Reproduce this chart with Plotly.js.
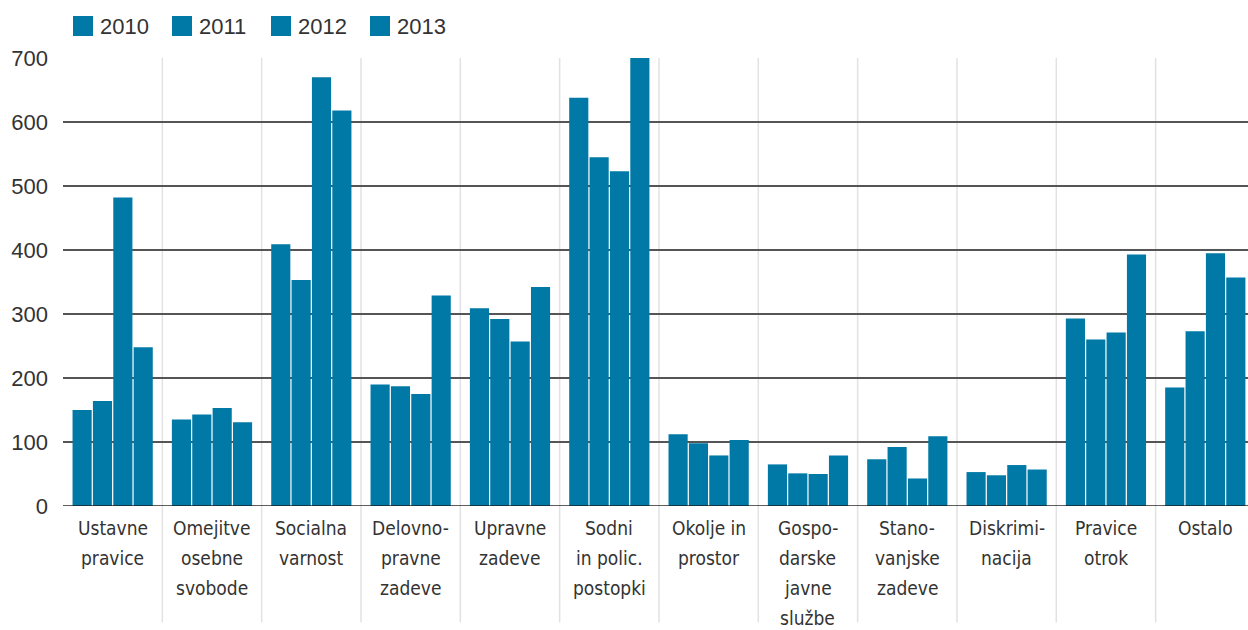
<!DOCTYPE html>
<html>
<head>
<meta charset="utf-8">
<script src="https://cdn.plot.ly/plotly-3.0.1.min.js"></script>
<style>
  html, body { margin: 0; padding: 0; background: #ffffff; }
  #chart { width: 1248px; height: 630px; }
</style>
</head>
<body>
<div id="chart"></div>
<script>
// Category labels (line-broken as in the reference)
const categoryLines = [
  ["Ustavne", "pravice"],
  ["Omejitve", "osebne", "svobode"],
  ["Socialna", "varnost"],
  ["Delovno-", "pravne", "zadeve"],
  ["Upravne", "zadeve"],
  ["Sodni", "in polic.", "postopki"],
  ["Okolje in", "prostor"],
  ["Gospo-", "darske", "javne", "službe"],
  ["Stano-", "vanjske", "zadeve"],
  ["Diskrimi-", "nacija"],
  ["Pravice", "otrok"],
  ["Ostalo"]
];
const categories = categoryLines.map(l => l.join(" "));

const seriesNames = ["2010", "2011", "2012", "2013"];
const values2010 = [150, 135, 409, 190, 309, 638, 112, 65, 73, 53, 293, 185];
const values2011 = [164, 143, 353, 187, 292, 545, 98, 51, 92, 48, 260, 273];
const values2012 = [482, 153, 670, 175, 257, 523, 79, 50, 43, 64, 271, 395];
const values2013 = [248, 131, 618, 329, 342, 700, 103, 79, 109, 57, 393, 357];
const seriesValues = [values2010, values2011, values2012, values2013];

const yTickValues = [0, 100, 200, 300, 400, 500, 600, 700];

const barColor = "#0079a6";
const textColor = "#333333";
const narrowFont = "'Liberation Sans Narrow', 'DejaVu Sans Condensed', Roboto, sans-serif";
const numFont = "'Liberation Sans', Arial, sans-serif";

const traces = seriesNames.map((name, k) => ({
  type: "bar",
  name: name,
  x: categories,
  y: seriesValues[k],
  marker: { color: barColor },
  hoverinfo: "x+y+name"
}));

const shapes = [];
for (let i = 0; i < categories.length - 1; i++) {
  shapes.push({
    type: "line", xref: "x", yref: "paper",
    x0: i + 0.5, x1: i + 0.5, y0: -0.26, y1: 1,
    line: { color: "#e2e2e2", width: 1.5 },
    layer: "below"
  });
}
shapes.push({
  type: "line", xref: "paper", yref: "y",
  x0: 0, x1: 1, y0: 0, y1: 0,
  line: { color: "rgba(25,25,25,0.7)", width: 2 },
  layer: "above"
});

const annotations = [];
categoryLines.forEach((lines, i) => {
  lines.forEach((txt, j) => {
    annotations.push({
      xref: "x", yref: "paper",
      x: i, y: 0,
      yanchor: "middle", xanchor: "center",
      yshift: -22 - 30 * j,
      text: txt, showarrow: false,
      font: { family: narrowFont, size: 19, color: textColor }
    });
  });
});

// Legend: square swatch + label per series, laid out along the top
seriesNames.forEach((name, k) => {
  shapes.push({
    type: "rect",
    xref: "paper", yref: "paper",
    xsizemode: "pixel", ysizemode: "pixel",
    xanchor: 0, yanchor: 1,
    x0: 10 + 99 * k, x1: 30 + 99 * k,
    y0: 22, y1: 42,
    fillcolor: barColor,
    line: { width: 0 },
    layer: "above"
  });
  annotations.push({
    xref: "paper", yref: "paper",
    x: 0, y: 1,
    xshift: 35 + 99 * k, yshift: 32,
    xanchor: "left", yanchor: "middle",
    text: name, showarrow: false,
    font: { family: numFont, size: 22, color: textColor }
  });
});

const layout = {
  width: 1248, height: 630,
  margin: { l: 63, r: 0, t: 58, b: 124, pad: 0 },
  paper_bgcolor: "#ffffff",
  plot_bgcolor: "#ffffff",
  barmode: "group",
  bargap: 0.18,
  bargroupgap: 0.06,
  showlegend: false,
  xaxis: {
    type: "category",
    range: [-0.5, 11.43],
    showticklabels: false,
    showgrid: false,
    zeroline: false,
    showline: false,
    ticks: "",
    fixedrange: true
  },
  yaxis: {
    range: [0, 700],
    tickvals: yTickValues,
    ticktext: yTickValues.map(String),
    showgrid: true,
    gridcolor: "#555555",
    gridwidth: 1.6,
    zeroline: false,
    showline: false,
    ticks: "",
    ticklabelstandoff: 14,
    tickfont: { family: numFont, size: 22, color: textColor },
    fixedrange: true
  },
  shapes: shapes,
  annotations: annotations
};

Plotly.newPlot("chart", traces, layout, { displayModeBar: false });
</script>
</body>
</html>
